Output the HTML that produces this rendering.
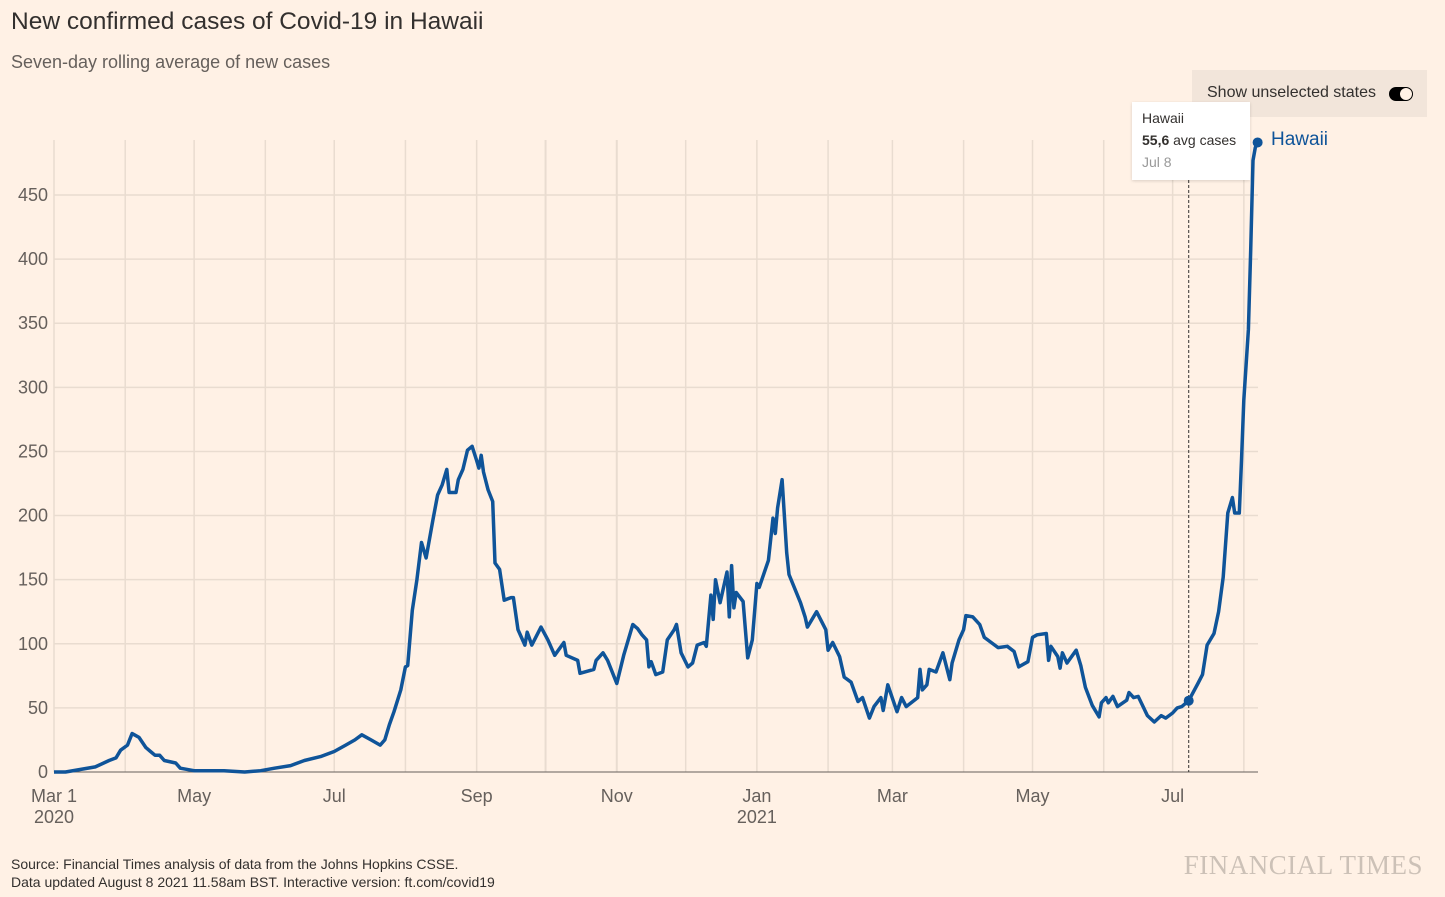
<!DOCTYPE html>
<html><head><meta charset="utf-8"><style>
body{margin:0;background:#fff1e5;width:1445px;height:897px;overflow:hidden;font-family:"Liberation Sans",sans-serif;position:relative}
.t{position:absolute;white-space:nowrap}
</style></head><body>
<div class="t" style="left:11px;top:8px;font-size:24.5px;color:#33302e">New confirmed cases of Covid-19 in Hawaii</div>
<div class="t" style="left:11px;top:52px;font-size:18px;color:#66605c">Seven-day rolling average of new cases</div>
<div style="position:absolute;left:1192px;top:70px;width:235px;height:47px;background:#f2e5da">
 <span class="t" style="left:15px;top:14px;font-size:16px;color:#33302e">Show unselected states</span>
 <span style="position:absolute;left:197px;top:17px;width:22px;height:12px;border:1.5px solid #000;border-radius:8px;background:#000"><span style="position:absolute;right:0;top:0;width:12px;height:12px;border-radius:6px;background:#fff1e5"></span></span>
</div>
<svg id="chart" width="1445" height="897" style="position:absolute;left:0;top:0"></svg>
<div style="position:absolute;left:1132px;top:102px;width:118px;height:78px;background:#fff;box-shadow:0 1px 3px rgba(0,0,0,.15)">
 <div class="t" style="left:10px;top:8px;font-size:14px;color:#33302e">Hawaii</div>
 <div class="t" style="left:10px;top:30px;font-size:14px;color:#33302e"><b>55,6</b> avg cases</div>
 <div class="t" style="left:10px;top:52px;font-size:14px;color:#999">Jul 8</div>
</div>
<div class="t" style="left:1271px;top:129px;font-size:19px;color:#0f5499">Hawaii</div>
<div class="t" style="left:11px;top:855px;font-size:14px;color:#33302e;line-height:18px">Source: Financial Times analysis of data from the Johns Hopkins CSSE.<br>Data updated August 8 2021 11.58am BST. Interactive version: ft.com/covid19</div>
<div class="t" style="right:22px;top:850px;font-size:27px;font-family:'Liberation Serif',serif;color:#ccc1b7;letter-spacing:0.5px">FINANCIAL TIMES</div>
<script>
const days=[0,5,18,24,27,29,32,34,35,37,40,42,44,46,48,53,55,61,74,83,90,96,103,109,116,122,127,131,134,138,142,144,146,148,151,153,154,156,158,160,162,165,167,169,171,172,175,176,178,180,182,184,185,186,187,189,191,192,194,196,199,200,202,205,206,208,212,215,218,222,223,228,229,235,236,239,241,245,248,252,254,256,258,259,260,262,265,267,270,271,273,276,278,280,283,284,286,287,288,290,293,294,295,296,297,300,301,302,304,306,307,311,313,314,315,317,319,320,325,327,328,332,336,337,339,342,344,347,350,352,355,357,360,361,363,367,369,371,376,377,378,380,381,384,387,390,391,394,396,397,400,403,405,408,411,415,418,420,424,426,428,432,433,434,437,438,439,441,445,447,449,452,455,456,458,459,461,463,467,468,470,472,476,479,482,484,487,489,491,494,498,500,502,505,507,509,511,513,514,516,517,518,520,521,522,523,524];
const cases=[0,0,4,9,11,17,21,30,29,27,19,16,13,13,9,7,3,1,1,0,1,3,5,9,12,16,21,25,29,25,21,25,37,47,64,82,83,126,150,179,167,197,216,224,236,218,218,228,236,251,254,243,237,247,234,220,211,163,158,134,136,136,111,99,109,99,113,103,91,101,91,87,77,80,87,93,87,69,91,115,112,107,103,82,86,76,78,103,111,115,93,82,85,99,101,98,138,119,150,132,156,121,161,128,140,133,111,89,103,147,144,165,198,186,206,228,171,154,132,121,113,125,111,95,101,90,74,70,55,58,42,51,58,48,68,47,58,51,58,80,64,68,80,78,93,72,85,103,111,122,121,115,105,101,97,98,94,82,86,105,107,108,87,98,90,81,93,85,95,83,66,52,43,54,58,54,59,51,56,62,58,59,44,39,44,42,46,50,51,55.6,69,76,99,108,125,152,202,214,202,202,243,290,345,407,477,487,491];
const yTicks=[0,50,100,150,200,250,300,350,400,450];
const xTickDays=[0,61,122,184,245,306,365,426,487];
const xTickLabels=[["Mar 1","2020"],["May"],["Jul"],["Sep"],["Nov"],["Jan","2021"],["Mar"],["May"],["Jul"]];
const monthDays=[0,31,61,92,122,153,184,214,245,275,306,337,365,396,426,457,487,518];
const hoverDay=494, hoverVal=55.6;
const NS="http://www.w3.org/2000/svg";
const svg=document.getElementById('chart');
const X=d=>54+d*2.297, Y=v=>772-v*1.2822;
function mk(t,a){const e=document.createElementNS(NS,t);for(const k in a)e.setAttribute(k,a[k]);svg.appendChild(e);return e;}
monthDays.forEach(d=>{const l=mk('line',{x1:X(d),x2:X(d),y1:140,y2:772,stroke:'#e9dcd0','stroke-width':(d===214||d===245)?2:1.5});

});
yTicks.forEach(v=>{const l=mk('line',{x1:54,x2:1258,y1:Y(v),y2:Y(v),stroke:v===0?'#66605c':'#e9dcd0','stroke-width':v===0?1:1.5});


const t=mk('text',{x:48,y:Y(v)+6,'text-anchor':'end','font-size':18,fill:'#66605c','font-family':'Liberation Sans, sans-serif'});t.textContent=v;

});
xTickDays.forEach((d,i)=>{xTickLabels[i].forEach((s,j)=>{const t=mk('text',{x:X(d),y:802+j*21,'text-anchor':'middle','font-size':18,fill:'#66605c','font-family':'Liberation Sans, sans-serif'});t.textContent=s;

});});
const hl=mk('line',{x1:X(hoverDay),x2:X(hoverDay),y1:180,y2:772,stroke:'#33302e','stroke-width':1,'stroke-dasharray':'3,2'});


const p=mk('path',{d:days.map((d,i)=>(i?'L':'M')+X(d).toFixed(1)+','+Y(cases[i]).toFixed(1)).join(''),fill:'none',stroke:'#0f5499','stroke-width':3.5,'stroke-linejoin':'round'});


const hd=mk('circle',{cx:X(hoverDay),cy:Y(hoverVal),r:5,fill:'#0f5499'});


const last=days.length-1;
const ed=mk('circle',{cx:X(days[last]),cy:Y(cases[last]),r:5,fill:'#0f5499'});


</script>
</body></html>
